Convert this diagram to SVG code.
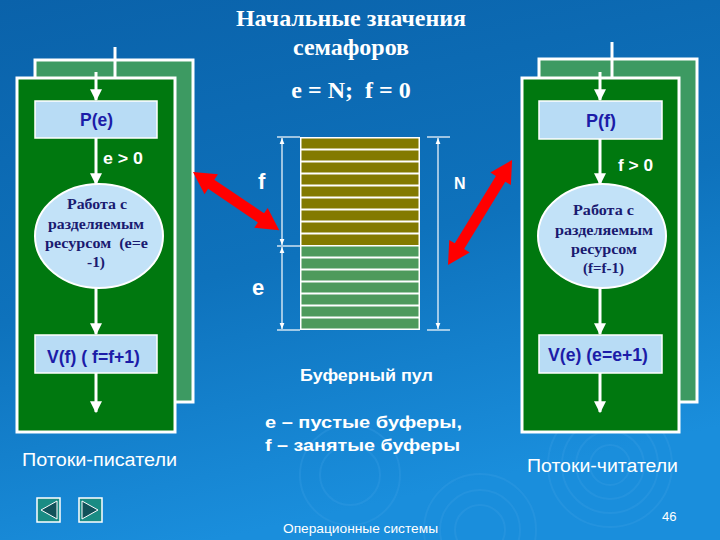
<svg xmlns="http://www.w3.org/2000/svg" width="720" height="540" viewBox="0 0 720 540">
<defs>
<linearGradient id="bg" x1="0" y1="0" x2="0.3" y2="1">
<stop offset="0" stop-color="#0a62aa"/>
<stop offset="0.55" stop-color="#0e72bc"/>
<stop offset="1" stop-color="#1a8edc"/>
</linearGradient>
<marker id="ah" viewBox="0 0 10 10" refX="9" refY="5" markerWidth="4" markerHeight="4" orient="auto">
<path d="M0,0 L10,5 L0,10 z" fill="#ffffff"/>
</marker>
<marker id="dh" viewBox="0 0 10 10" refX="10" refY="5" markerWidth="6" markerHeight="6" markerUnits="userSpaceOnUse" orient="auto-start-reverse">
<path d="M0,1 L10,5 L0,9 z" fill="#ffffff"/>
</marker>
</defs>
<style>
.back{fill:#3d9a62;stroke:#ffffff;stroke-width:3}
.front{fill:#00780f;stroke:#ffffff;stroke-width:3}
.box{fill:#b8dcf5;stroke:#ffffff;stroke-width:1.5}
.ell{fill:#c2e2f8;stroke:#ffffff;stroke-width:2}
.flow{stroke:#ffffff;stroke-width:3;fill:none}
.wl{stroke:#ffffff;stroke-width:3;fill:none}
.btxt{font-family:"Liberation Sans",Arial,sans-serif;font-size:18px;font-weight:bold;fill:#1c1ca8}
.etxt{font-family:"Liberation Serif","Times New Roman",serif;font-size:14px;font-weight:bold;fill:#1a1a70}
.cond{font-family:"Liberation Sans",Arial,sans-serif;font-size:16px;font-weight:bold;fill:#ffffff}
.wt{font-family:"Liberation Sans",Arial,sans-serif;fill:#ffffff}
.tt{font-family:"Liberation Serif","Times New Roman",serif;font-weight:bold;fill:#ffffff;text-anchor:middle;font-size:24px}
.ol{fill:#837a00}
.gr{fill:#4e9a5c}
.dim{stroke:#ffffff;stroke-width:1.2;fill:none}
.red{fill:#ff0000}
.nav{fill:#1a8c84;stroke:#ffffff;stroke-width:1.5}
.navi{fill:#12525a;stroke:#ffffff;stroke-width:1}
</style>
<rect width="720" height="540" fill="url(#bg)"/>
<g fill="none" stroke="#3aa0e6" stroke-opacity="0.3" stroke-width="2">
<circle cx="610" cy="465" r="20"/><circle cx="610" cy="465" r="34"/><circle cx="610" cy="465" r="48"/><circle cx="610" cy="465" r="62"/>
<circle cx="480" cy="530" r="25"/><circle cx="480" cy="530" r="40"/><circle cx="480" cy="530" r="56"/>
<circle cx="350" cy="475" r="30"/><circle cx="350" cy="475" r="50"/>
</g>

<g id="title">
<text class="tt" x="351" y="26">Начальные значения</text>
<text class="tt" x="351" y="55">семафоров</text>
<text class="tt" x="351" y="98" xml:space="preserve">e = N;  f = 0</text>
</g>

<g id="writers">
<rect class="back" x="35" y="60" width="158" height="342"/>
<rect class="front" x="17" y="78" width="158" height="354"/>
<line class="wl" x1="115" y1="47" x2="115" y2="78"/>
</g>
<g id="readers">
<rect class="back" x="539" y="59" width="158" height="343"/>
<rect class="front" x="522" y="78" width="157" height="354"/>
<line class="wl" x1="612" y1="42" x2="612" y2="78"/>
</g>

<g id="connectors">
<line class="flow" x1="96" y1="72" x2="96" y2="100" marker-end="url(#ah)"/>
<line class="flow" x1="96" y1="138" x2="96" y2="184" marker-end="url(#ah)"/>
<line class="flow" x1="96" y1="288" x2="96" y2="334" marker-end="url(#ah)"/>
<line class="flow" x1="96" y1="373" x2="96" y2="412" marker-end="url(#ah)"/>
<line class="flow" x1="600" y1="72" x2="600" y2="100" marker-end="url(#ah)"/>
<line class="flow" x1="600" y1="139" x2="600" y2="184" marker-end="url(#ah)"/>
<line class="flow" x1="600" y1="288" x2="600" y2="334" marker-end="url(#ah)"/>
<line class="flow" x1="600" y1="373" x2="600" y2="412" marker-end="url(#ah)"/>
<path class="red" transform="translate(193,172) rotate(34)" d="M0,0 L22,-12 L22,-5.5 L82,-5.5 L82,-12 L104,0 L82,12 L82,5.5 L22,5.5 L22,12 Z"/>
<path class="red" transform="translate(448,265) rotate(-58.6)" d="M0,0 L22,-12 L22,-5.5 L101,-5.5 L101,-12 L123,0 L101,12 L101,5.5 L22,5.5 L22,12 Z"/>
</g>

<g id="pe">
<rect class="box" x="35" y="101" width="122" height="37"/>
<text class="btxt" x="80" y="126" textLength="33" lengthAdjust="spacingAndGlyphs">P(e)</text>
</g>
<text class="cond" x="103" y="164" textLength="40" lengthAdjust="spacingAndGlyphs">e &gt; 0</text>
<g id="work-w">
<ellipse class="ell" cx="99" cy="236" rx="64" ry="52"/>
<text class="etxt" x="67" y="209" textLength="60" lengthAdjust="spacingAndGlyphs">Работа с</text>
<text class="etxt" x="48" y="229" textLength="96" lengthAdjust="spacingAndGlyphs">разделяемым</text>
<text class="etxt" x="45" y="248" textLength="103" lengthAdjust="spacingAndGlyphs" xml:space="preserve">ресурсом  (е=е</text>
<text class="etxt" x="87" y="267" textLength="18" lengthAdjust="spacingAndGlyphs">-1)</text>
</g>
<g id="vf">
<rect class="box" x="35" y="335" width="122" height="38"/>
<text class="btxt" x="47" y="363" textLength="93" lengthAdjust="spacingAndGlyphs">V(f) ( f=f+1)</text>
</g>

<g id="pf">
<rect class="box" x="539" y="101" width="123" height="38"/>
<text class="btxt" x="586" y="127" textLength="30" lengthAdjust="spacingAndGlyphs">P(f)</text>
</g>
<text class="cond" x="618" y="171" textLength="35" lengthAdjust="spacingAndGlyphs">f &gt; 0</text>
<g id="work-r">
<ellipse class="ell" cx="602" cy="236" rx="64" ry="52"/>
<text class="etxt" x="573" y="215" textLength="61" lengthAdjust="spacingAndGlyphs">Работа с</text>
<text class="etxt" x="555" y="235" textLength="98" lengthAdjust="spacingAndGlyphs">разделяемым</text>
<text class="etxt" x="571" y="254" textLength="66" lengthAdjust="spacingAndGlyphs">ресурсом</text>
<text class="etxt" x="583" y="273" textLength="41" lengthAdjust="spacingAndGlyphs">(f=f-1)</text>
</g>
<g id="ve">
<rect class="box" x="539" y="335" width="123" height="38"/>
<text class="btxt" x="548" y="361" textLength="100" lengthAdjust="spacingAndGlyphs">V(e) (e=e+1)</text>
</g>

<g id="pool">
<rect x="300" y="137" width="120" height="193" fill="#ffffff"/>
<rect class="ol" x="301.5" y="138.5" width="117" height="10"/>
<rect class="ol" x="301.5" y="150.5" width="117" height="10"/>
<rect class="ol" x="301.5" y="162.5" width="117" height="10"/>
<rect class="ol" x="301.5" y="174.5" width="117" height="10"/>
<rect class="ol" x="301.5" y="186.5" width="117" height="10"/>
<rect class="ol" x="301.5" y="198.5" width="117" height="10"/>
<rect class="ol" x="301.5" y="210.5" width="117" height="10"/>
<rect class="ol" x="301.5" y="222.5" width="117" height="10"/>
<rect class="ol" x="301.5" y="234.5" width="117" height="10.5"/>
<rect class="gr" x="301.5" y="246.5" width="117" height="10"/>
<rect class="gr" x="301.5" y="258.5" width="117" height="10"/>
<rect class="gr" x="301.5" y="270.5" width="117" height="10"/>
<rect class="gr" x="301.5" y="282.5" width="117" height="10"/>
<rect class="gr" x="301.5" y="294.5" width="117" height="10"/>
<rect class="gr" x="301.5" y="306.5" width="117" height="10"/>
<rect class="gr" x="301.5" y="318.5" width="117" height="10"/>
<line class="dim" x1="277" y1="137" x2="300" y2="137"/>
<line class="dim" x1="277" y1="246" x2="300" y2="246"/>
<line class="dim" x1="277" y1="330" x2="300" y2="330"/>
<line class="dim" x1="282" y1="138" x2="282" y2="245" marker-start="url(#dh)" marker-end="url(#dh)"/>
<line class="dim" x1="282" y1="247" x2="282" y2="329" marker-start="url(#dh)" marker-end="url(#dh)"/>
<line class="dim" x1="427" y1="137" x2="450" y2="137"/>
<line class="dim" x1="427" y1="330" x2="450" y2="330"/>
<line class="dim" x1="438" y1="138" x2="438" y2="329" marker-start="url(#dh)" marker-end="url(#dh)"/>
<text class="wt" x="258" y="189" font-size="22" font-weight="bold">f</text>
<text class="wt" x="454" y="189" font-size="16" font-weight="bold">N</text>
<text class="wt" x="252" y="295" font-size="22" font-weight="bold">e</text>
</g>

<g id="labels">
<text class="wt" x="300" y="381" font-size="17" font-weight="bold" textLength="133" lengthAdjust="spacingAndGlyphs">Буферный пул</text>
<text class="wt" x="265" y="428" font-size="17" font-weight="bold" textLength="197" lengthAdjust="spacingAndGlyphs">е – пустые буферы,</text>
<text class="wt" x="265" y="451" font-size="17" font-weight="bold" textLength="195" lengthAdjust="spacingAndGlyphs">f – занятые буферы</text>
<text class="wt" x="22" y="466" font-size="18" textLength="155" lengthAdjust="spacingAndGlyphs">Потоки-писатели</text>
<text class="wt" x="527" y="472" font-size="18" textLength="151" lengthAdjust="spacingAndGlyphs">Потоки-читатели</text>
<text class="wt" x="283" y="533" font-size="13" textLength="155" lengthAdjust="spacingAndGlyphs">Операционные системы</text>
<text class="wt" x="662" y="521" font-size="13">46</text>
</g>

<g id="nav">
<rect class="nav" x="37" y="498" width="23" height="24"/>
<path class="navi" d="M57,501 L41,510 L57,519 z"/>
<rect class="nav" x="79" y="498" width="23" height="24"/>
<path class="navi" d="M82,501 L98,510 L82,519 z"/>
</g>
</svg>
